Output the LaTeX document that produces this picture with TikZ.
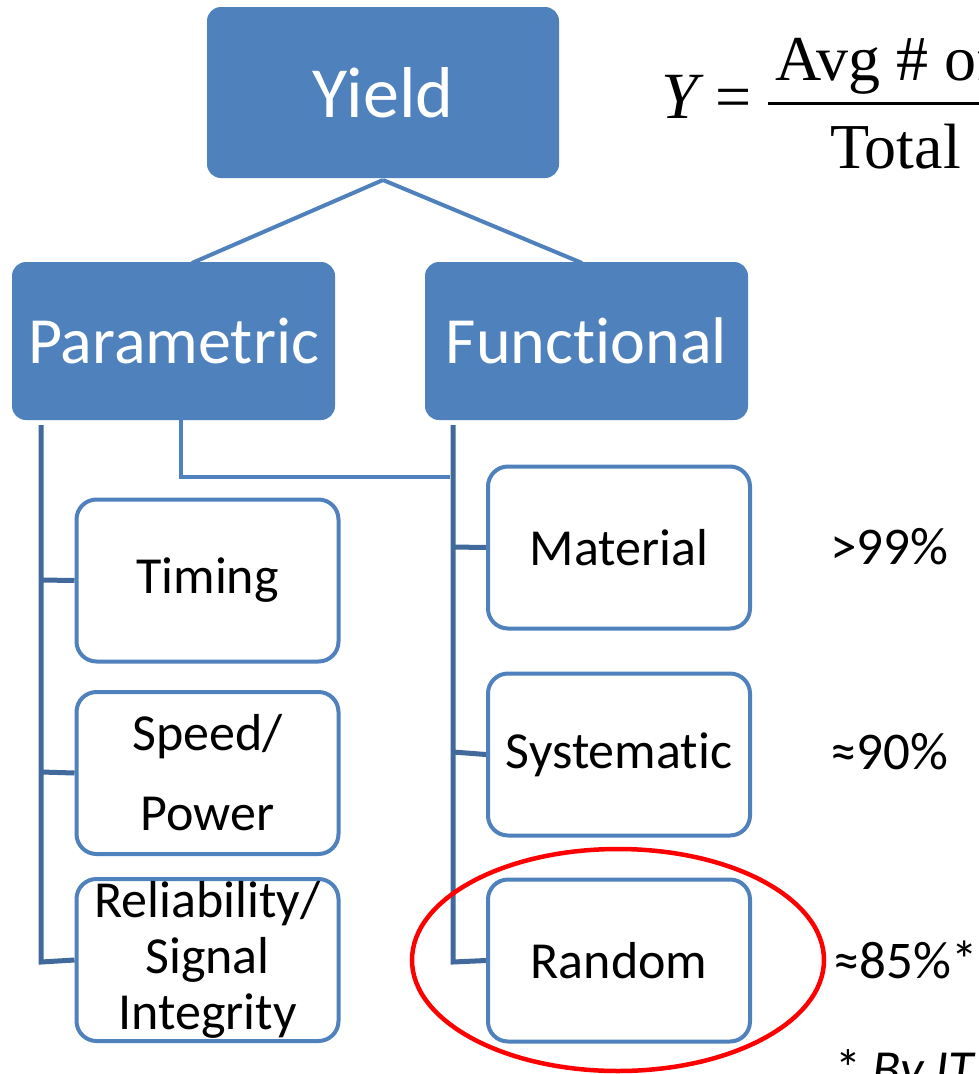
\documentclass[tikz,border=0pt]{standalone}
\usepackage{fontspec}
\setmainfont[Ligatures=NoCommon,RawFeature={-liga;-calt;-dlig}]{Carlito}
\newfontfamily\timesf{Liberation Serif}
\begin{document}
\begin{tikzpicture}[x=1pt,y=-1pt,
  topbox/.style={draw=none,fill=boxblue,rounded corners=14pt,text=white,inner sep=0pt,
    font=\fontsize{66}{79}\selectfont},
  childbox/.style={draw=boxblue,line width=4pt,fill=white,rounded corners=20pt,inner sep=0pt,
    minimum width=262pt,minimum height=162pt,align=center,font=\fontsize{52}{62}\selectfont},
  link/.style={draw=boxblue,line width=4pt},
  tree/.style={draw=treeblue,line width=5pt},
  pct/.style={anchor=west,inner sep=0pt,font=\fontsize{53}{62}\selectfont},
]
\definecolor{boxblue}{HTML}{4F81BD}
\definecolor{treeblue}{HTML}{41699B}
\useasboundingbox (0,0) rectangle (979,1074);
\clip (0,0) rectangle (979,1074);
\fill[white] (0,0) rectangle (979,1074);

% top boxes
\node[topbox,minimum width=352pt,minimum height=171pt,font=\fontsize{72}{80}\selectfont] (yield) at (383,92.5) {Yield};
\node[topbox,minimum width=323pt,minimum height=158pt] (param) at (173.5,341) {Parametric};
\node[topbox,minimum width=323pt,minimum height=158pt] (func) at (586.5,341) {Funct\kern0pt ional};

% links from Yield
\coordinate (ys) at (383,180);
\coordinate (pt) at (192,263);
\coordinate (ft) at (582,263);
\draw[link] (ys) -- (pt);
\draw[link] (ys) -- (ft);

% child boxes left
\node[childbox] (timing) at (207.5,580.5) {Timing};
\node[childbox,font=\fontsize{52}{80}\selectfont] (speed) at (207.5,773) {Speed/\\Power};
\node[childbox,font=\fontsize{52}{56}\selectfont] (rel) at (207.5,960) {Reliability/\\Signal\\Integrity};

% child boxes right
\node[childbox] (mat) at (619,547.5) {Material};
\node[childbox] (sys) at (619,754.5) {Systemat\kern0pt ic};
\node[childbox] (rnd) at (619,960.5) {Random};

% left tree
\coordinate (lt) at (41,425);
\coordinate (lb) at (41,962);
\draw[tree] (lt) -- (lb) -- (rel.west);
\draw[tree] (41,580) -- (timing.west);
\draw[tree] (41,772) -- (speed.west);

% right tree
\coordinate (rt) at (453,425);
\coordinate (rb) at (453,962);
\draw[tree] (rt) -- (rb) -- (rnd.west);
\draw[tree] (453,547) -- (mat.west);
\draw[tree] (453,752) -- (sys.west);

% parametric to functional connector
\coordinate (pb) at (181,420);
\coordinate (pj) at (450,477);
\draw[link] (pb) |- (pj);

% percentages
\node[pct] (p1) at (830,547) {>99\%};
\node[pct] (p2) at (830,752) {≈90\%};
\node[pct] (p3) at (833,960) {≈85\%*};

% red ellipse
\draw[red,line width=4.5pt] (618,960) ellipse [x radius=206pt,y radius=111pt];

% footnote
\node[anchor=base west,inner sep=0pt,font=\fontsize{52}{62}\selectfont] (fn) at (835,1086) {* \textit{By IT}};

% formula
\node[anchor=base,inner sep=0pt,font=\timesf\fontsize{66}{70}\selectfont\itshape] (Y) at (680,118) {Y};
\node[anchor=base,inner sep=0pt,font=\timesf\fontsize{64}{70}\selectfont] (eq) at (734,118) {=};
\coordinate (bar1) at (768,103);
\coordinate (bar2) at (990,103);
\draw[line width=3pt] (bar1) -- (bar2);
\node[anchor=base west,inner sep=0pt,font=\timesf\fontsize{64}{70}\selectfont] (num) at (775,80) {Avg \# of};
\node[anchor=base west,inner sep=0pt,font=\timesf\fontsize{64}{70}\selectfont] (den) at (830,168) {Total};
\end{tikzpicture}
\end{document}
